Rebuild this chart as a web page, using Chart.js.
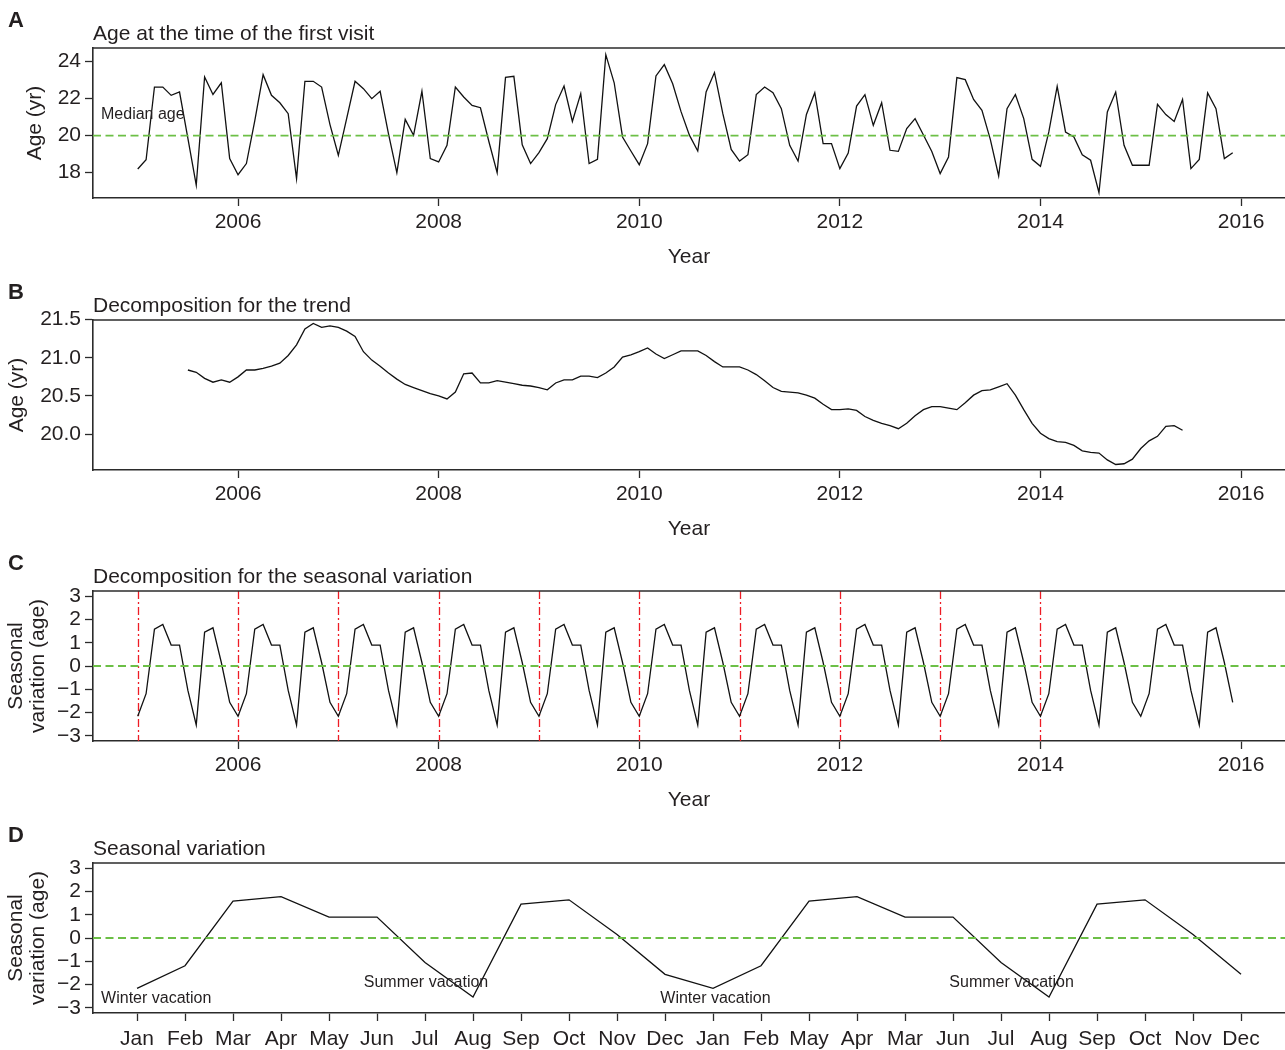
<!DOCTYPE html>
<html>
<head>
<meta charset="utf-8">
<title>Age at first visit: series, trend and seasonal variation</title>
<script src="https://cdn.jsdelivr.net/npm/chart.js@4.4.1/dist/chart.umd.min.js"></script>
<style>
  html, body { margin: 0; padding: 0; background: #ffffff; overflow: hidden; }
  #page { position: relative; width: 1285px; height: 1050px; }
  canvas { position: absolute; left: 0; }
</style>
</head>
<body>
<div id="page">
  <canvas id="panelA" width="1285" height="272" style="top:0px;width:1285px;height:272px"></canvas>
  <canvas id="panelB" width="1285" height="272" style="top:272px;width:1285px;height:272px"></canvas>
  <canvas id="panelC" width="1285" height="272" style="top:543px;width:1285px;height:272px"></canvas>
  <canvas id="panelD" width="1285" height="235" style="top:815px;width:1285px;height:235px"></canvas>
</div>
<script>
// ---- data -------------------------------------------------------------

// Monthly series starts in January of this year
const startYear = 2005;

// A: age (yr) at the first visit, monthly, Jan 2005 - Dec 2015
const firstVisitAge = [
  18.20, 18.70, 22.63, 22.63, 22.18, 22.36, 19.85, 17.32, 23.17, 22.23, 22.86, 18.76, // 2005
  17.89, 18.49, 20.80, 23.30, 22.18, 21.78, 21.19, 17.68, 22.94, 22.94, 22.63, 20.60, // 2006
  18.94, 20.94, 22.94, 22.54, 22.00, 22.40, 20.10, 18.00, 20.88, 20.02, 22.40, 18.76, // 2007
  18.58, 19.48, 22.63, 22.09, 21.64, 21.51, 19.70, 18.00, 23.15, 23.21, 19.51, 18.49, // 2008
  19.08, 19.84, 21.68, 22.68, 20.77, 22.27, 18.49, 18.72, 24.38, 22.86, 19.93, 19.17, // 2009
  18.43, 19.57, 23.23, 23.84, 22.81, 21.30, 20.03, 19.17, 22.36, 23.41, 21.19, 19.26, // 2010
  18.63, 18.97, 22.22, 22.63, 22.32, 21.46, 19.48, 18.63, 21.15, 22.32, 19.57, 19.57, // 2011
  18.22, 19.06, 21.60, 22.22, 20.56, 21.78, 19.21, 19.15, 20.38, 20.92, 20.04, 19.14, // 2012
  17.95, 18.85, 23.14, 23.03, 21.96, 21.37, 19.80, 17.82, 21.46, 22.23, 20.92, 18.72, // 2013
  18.34, 20.20, 22.67, 20.20, 19.93, 18.97, 18.67, 16.92, 21.28, 22.36, 19.48, 18.40, // 2014
  18.40, 18.40, 21.69, 21.14, 20.77, 21.96, 18.22, 18.72, 22.31, 21.46, 18.76, 19.08  // 2015
];

// B: trend component, Jul 2005 - Jun 2015
const trendStart = 2005.5;
const trendAge = [
                                      20.84, 20.81, 20.73, 20.68, 20.71, 20.68, // 2005
  20.75, 20.84, 20.84, 20.86, 20.89, 20.93, 21.03, 21.17, 21.38, 21.45, 21.40, 21.42, // 2006
  21.40, 21.35, 21.28, 21.08, 20.97, 20.89, 20.80, 20.72, 20.65, 20.61, 20.57, 20.53, // 2007
  20.50, 20.46, 20.55, 20.79, 20.80, 20.67, 20.67, 20.70, 20.68, 20.66, 20.64, 20.63, // 2008
  20.61, 20.58, 20.67, 20.71, 20.71, 20.76, 20.76, 20.74, 20.80, 20.88, 21.01, 21.04, // 2009
  21.08, 21.13, 21.05, 20.99, 21.04, 21.09, 21.09, 21.09, 21.03, 20.95, 20.88, 20.88, // 2010
  20.88, 20.84, 20.78, 20.70, 20.61, 20.56, 20.55, 20.54, 20.51, 20.47, 20.39, 20.32, // 2011
  20.32, 20.33, 20.31, 20.23, 20.18, 20.14, 20.11, 20.07, 20.14, 20.24, 20.32, 20.36, // 2012
  20.36, 20.34, 20.32, 20.41, 20.51, 20.57, 20.58, 20.62, 20.66, 20.51, 20.32, 20.14, // 2013
  20.01, 19.94, 19.90, 19.89, 19.85, 19.78, 19.76, 19.75, 19.66, 19.60, 19.61, 19.67, // 2014
  19.81, 19.91, 19.97, 20.10, 20.11, 20.05                                            // 2015
];

// C: seasonal component, monthly, Jan 2005 - Dec 2015
const seasonalSeries = [
  -2.16, -1.19, 1.58, 1.78, 0.90, 0.90, -1.05, -2.53, 1.45, 1.64, 0.15, -1.56, // 2005
  -2.16, -1.19, 1.58, 1.78, 0.90, 0.90, -1.05, -2.53, 1.45, 1.64, 0.15, -1.56, // 2006
  -2.16, -1.19, 1.58, 1.78, 0.90, 0.90, -1.05, -2.53, 1.45, 1.64, 0.15, -1.56, // 2007
  -2.16, -1.19, 1.58, 1.78, 0.90, 0.90, -1.05, -2.53, 1.45, 1.64, 0.15, -1.56, // 2008
  -2.16, -1.19, 1.58, 1.78, 0.90, 0.90, -1.05, -2.53, 1.45, 1.64, 0.15, -1.56, // 2009
  -2.16, -1.19, 1.58, 1.78, 0.90, 0.90, -1.05, -2.53, 1.45, 1.64, 0.15, -1.56, // 2010
  -2.16, -1.19, 1.58, 1.78, 0.90, 0.90, -1.05, -2.53, 1.45, 1.64, 0.15, -1.56, // 2011
  -2.16, -1.19, 1.58, 1.78, 0.90, 0.90, -1.05, -2.53, 1.45, 1.64, 0.15, -1.56, // 2012
  -2.16, -1.19, 1.58, 1.78, 0.90, 0.90, -1.05, -2.53, 1.45, 1.64, 0.15, -1.56, // 2013
  -2.16, -1.19, 1.58, 1.78, 0.90, 0.90, -1.05, -2.53, 1.45, 1.64, 0.15, -1.56, // 2014
  -2.16, -1.19, 1.58, 1.78, 0.90, 0.90, -1.05, -2.53, 1.45, 1.64, 0.15, -1.56  // 2015
];

// D: seasonal variation over two consecutive years
const monthLabels = ['Jan','Feb','Mar','Apr','May','Jun','Jul','Aug','Sep','Oct','Nov','Dec',
                     'Jan','Feb','May','Apr','Mar','Jun','Jul','Aug','Sep','Oct','Nov','Dec'];
const seasonalPattern = [-2.16, -1.19, 1.58, 1.78, 0.90, 0.90, -1.05, -2.53, 1.45, 1.64, 0.15, -1.56,
                         -2.16, -1.19, 1.58, 1.78, 0.90, 0.90, -1.05, -2.53, 1.45, 1.64, 0.15, -1.56];

// axis ticks and reference marks
const yearTicks = [2006, 2008, 2010, 2012, 2014, 2016];
const yearMarks = [2005, 2006, 2007, 2008, 2009, 2010, 2011, 2012, 2013, 2014];
const ageTicks = [18, 20, 22, 24];
const trendTicks = [20.0, 20.5, 21.0, 21.5];
const seasonalTicks = [-3, -2, -1, 0, 1, 2, 3];
const medianAge = 20;
const seasonalBase = 0;

// text annotations inside the panels
const medianNote = { text: 'Median age', x: 2004.634, y: 21.15 };
const vacationNotes = ['Winter vacation', 'Summer vacation', 'Winter vacation', 'Summer vacation'];
const vacationX = [1.40, 7.02, 13.05, 19.22];
const vacationY = [-2.62, -1.93, -2.62, -1.93];

// ---- drawing ----------------------------------------------------------

const INK = '#231f20';
const AXIS = '#2b2b2b';
const LINE = '#111111';
const GREEN = '#6cbf46';
const RED = '#ee1c25';
const FONT = '"Liberation Sans", Arial, Helvetica, sans-serif';

const monthly = (vals, start) => vals.map((v, i) => ({ x: start + i / 12, y: v }));
const minusSign = v => (v < 0 ? '\u2212' + Math.abs(v) : String(v));

function decor(p) {
  return {
    id: 'decor',
    beforeDatasetsDraw(chart) {
      const { ctx, chartArea: a, scales } = chart;
      if (!p.vMarks) return;
      ctx.save();
      ctx.strokeStyle = RED;
      ctx.lineWidth = 1.3;
      ctx.setLineDash([8, 3, 2, 3]);
      p.vMarks.forEach(v => {
        const px = Math.round(scales.x.getPixelForValue(v)) + 0.5;
        ctx.beginPath();
        ctx.moveTo(px, a.top);
        ctx.lineTo(px, a.bottom);
        ctx.stroke();
      });
      ctx.restore();
    },
    afterDatasetsDraw(chart) {
      const { ctx, chartArea: a, scales } = chart;
      ctx.save();
      // horizontal reference line
      if (p.hLine !== null) {
        const py = scales.y.getPixelForValue(p.hLine);
        ctx.strokeStyle = GREEN;
        ctx.lineWidth = 1.8;
        ctx.setLineDash([8, 4.5]);
        ctx.beginPath();
        ctx.moveTo(a.left, py);
        ctx.lineTo(a.right, py);
        ctx.stroke();
        ctx.setLineDash([]);
      }

      // top side of the frame
      ctx.strokeStyle = AXIS;
      ctx.lineWidth = 1.6;
      ctx.beginPath();
      ctx.moveTo(a.left - 0.8, a.top);
      ctx.lineTo(a.right, a.top);
      ctx.stroke();

      ctx.fillStyle = INK;
      // panel letter
      ctx.font = 'bold 22px ' + FONT;
      ctx.textAlign = 'left';
      ctx.textBaseline = 'alphabetic';
      ctx.fillText(p.letter, 8, 27);
      // panel title
      ctx.font = '21px ' + FONT;
      ctx.fillText(p.title, a.left, a.top - 8.5);
      // x axis title
      if (p.xTitle) {
        ctx.textAlign = 'center';
        ctx.textBaseline = 'middle';
        ctx.fillText(p.xTitle, (a.left + a.right) / 2, a.bottom + 59);
      }
      // y axis title (one or two lines)
      const cy = (a.top + a.bottom) / 2;
      p.yTitle.forEach((t, i) => {
        ctx.save();
        ctx.translate(p.yTitleX[i], cy);
        ctx.rotate(-Math.PI / 2);
        ctx.textAlign = 'center';
        ctx.textBaseline = 'middle';
        ctx.fillText(t, 0, 0);
        ctx.restore();
      });
      // notes
      ctx.font = '16px ' + FONT;
      ctx.textBaseline = 'middle';
      (p.notes || []).forEach(n => {
        ctx.textAlign = n.align;
        ctx.fillText(n.text, scales.x.getPixelForValue(n.x), scales.y.getPixelForValue(n.y));
      });
      ctx.restore();
    }
  };
}

function axisCommon() {
  return {
    grid: { display: true, drawOnChartArea: false, drawTicks: true, tickLength: 8, tickWidth: 1.3, tickColor: AXIS },
    border: { display: true, color: AXIS, width: 1.6 }
  };
}

function buildPanel(id, p) {
  const canvas = document.getElementById(id);
  const H = canvas.height;
  return new Chart(canvas, {
    type: 'line',
    data: {
      datasets: [{
        data: p.points,
        borderColor: LINE,
        borderWidth: 1.3,
        pointRadius: 0,
        tension: 0,
        fill: false
      }]
    },
    options: {
      responsive: false,
      animation: false,
      events: [],
      layout: { padding: { top: 48, left: 0, right: 0, bottom: 0 } },
      plugins: { legend: { display: false }, tooltip: { enabled: false }, title: { display: false } },
      scales: {
        x: Object.assign(axisCommon(), {
          type: 'linear',
          min: p.xMin,
          max: p.xMax,
          afterBuildTicks: s => { s.ticks = p.xTicks.map(v => ({ value: v })); },
          afterFit: s => { s.height = H - 198; },
          ticks: {
            autoSkip: false, maxRotation: 0, minRotation: 0, padding: p.xPad, color: INK,
            font: { family: FONT, size: 21 },
            callback: p.xLabel
          }
        }),
        y: Object.assign(axisCommon(), {
          type: 'linear',
          min: p.yMin,
          max: p.yMax,
          afterBuildTicks: s => { s.ticks = p.yTicks.map(v => ({ value: v })); },
          afterFit: s => { s.width = 93; },
          ticks: {
            autoSkip: false, padding: 4, color: INK,
            font: { family: FONT, size: 21 },
            callback: p.yLabel
          }
        })
      }
    },
    plugins: [decor(p)]
  });
}

const yearAxis = { xMin: 2004.554, xMax: 2016.438, xTicks: yearTicks, xLabel: v => String(v), xPad: 4 };

buildPanel('panelA', Object.assign({}, yearAxis, {
  points: monthly(firstVisitAge, startYear),
  yMin: 16.63, yMax: 24.74, yTicks: ageTicks, yLabel: v => String(v),
  hLine: medianAge,
  letter: 'A', title: 'Age at the time of the first visit', xTitle: 'Year',
  yTitle: ['Age (yr)'], yTitleX: [35],
  notes: [{ text: medianNote.text, x: medianNote.x, y: medianNote.y, align: 'left' }]
}));

buildPanel('panelB', Object.assign({}, yearAxis, {
  points: monthly(trendAge, trendStart),
  yMin: 19.528, yMax: 21.496, yTicks: trendTicks, yLabel: v => v.toFixed(1),
  hLine: null,
  letter: 'B', title: 'Decomposition for the trend', xTitle: 'Year',
  yTitle: ['Age (yr)'], yTitleX: [17.5]
}));

buildPanel('panelC', Object.assign({}, yearAxis, {
  points: monthly(seasonalSeries, startYear),
  yMin: -3.22, yMax: 3.22, yTicks: seasonalTicks, yLabel: minusSign,
  hLine: seasonalBase, vMarks: yearMarks,
  letter: 'C', title: 'Decomposition for the seasonal variation', xTitle: 'Year',
  yTitle: ['Seasonal', 'variation (age)'], yTitleX: [16.5, 38.5]
}));

buildPanel('panelD', {
  points: seasonalPattern.map((v, i) => ({ x: i + 1, y: v })),
  xMin: 0.083, xMax: 24.916, xTicks: monthLabels.map((_, i) => i + 1),
  xLabel: v => monthLabels[v - 1], xPad: 6,
  yMin: -3.22, yMax: 3.22, yTicks: seasonalTicks, yLabel: minusSign,
  hLine: seasonalBase,
  letter: 'D', title: 'Seasonal variation', xTitle: null,
  yTitle: ['Seasonal', 'variation (age)'], yTitleX: [16.5, 38.5],
  notes: vacationNotes.map((t, i) => ({ text: t, x: vacationX[i], y: vacationY[i], align: 'center' }))
});
</script>
</body>
</html>
